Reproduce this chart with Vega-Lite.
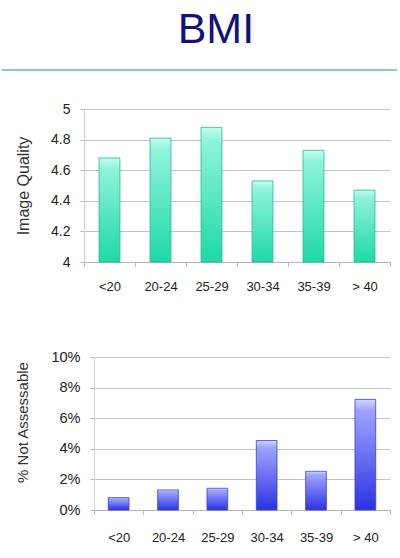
{
  "$schema": "https://vega.github.io/schema/vega-lite/v6.json",
  "padding": 0,
  "spacing": 31,
  "background": "white",
  "config": {
    "font": "Liberation Sans",
    "view": {"stroke": null},
    "axis": {
      "labelFont": "Liberation Sans",
      "titleFont": "Liberation Sans",
      "labelFontSize": 14,
      "labelColor": "#222",
      "titleFontSize": 16,
      "titleFontWeight": "normal",
      "titleColor": "#333",
      "gridColor": "#c4c4c4",
      "domainColor": "#b4b4b4",
      "tickColor": "#b4b4b4"
    }
  },
  "datasets": {
    "bmi": [
      {"bmi": "<20", "quality": 4.68, "notAssessable": 0.0081},
      {"bmi": "20-24", "quality": 4.81, "notAssessable": 0.0131},
      {"bmi": "25-29", "quality": 4.88, "notAssessable": 0.0142},
      {"bmi": "30-34", "quality": 4.53, "notAssessable": 0.0454},
      {"bmi": "35-39", "quality": 4.73, "notAssessable": 0.0253},
      {"bmi": "> 40", "quality": 4.47, "notAssessable": 0.0723}
    ],
    "header": [{"label": "BMI"}]
  },
  "vconcat": [
    {
      "width": 306,
      "height": 70,
      "data": {"name": "header"},
      "layer": [
        {
          "mark": {"type": "text", "fontSize": 43, "color": "#12127a", "baseline": "alphabetic", "align": "center"},
          "encoding": {
            "x": {"datum": 0.431, "type": "quantitative", "scale": {"domain": [0, 1]}, "axis": null},
            "y": {"datum": 0.386, "type": "quantitative", "scale": {"domain": [0, 1]}, "axis": null},
            "text": {"field": "label"}
          }
        },
        {
          "mark": {"type": "rule", "color": "#7fcfc6", "strokeWidth": 2},
          "encoding": {
            "x": {"datum": -0.268, "type": "quantitative"},
            "x2": {"datum": 1.023},
            "y": {"datum": 0, "type": "quantitative"}
          }
        }
      ]
    },
    {
      "concat": [
        {
          "width": 306,
          "height": 153,
          "data": {"name": "bmi"},
          "mark": {
            "type": "bar",
            "width": {"band": 0.41},
            "stroke": "#27b995",
            "strokeWidth": 0.8,
            "color": {
              "gradient": "linear", "x1": 0, "y1": 0, "x2": 0, "y2": 1,
              "stops": [
                {"offset": 0, "color": "#c4fcee"},
                {"offset": 0.1, "color": "#8ff3db"},
                {"offset": 1, "color": "#1ed9a6"}
              ]
            }
          },
          "encoding": {
            "x": {
              "field": "bmi", "type": "nominal", "sort": null, "title": null,
              "scale": {"paddingInner": 0, "paddingOuter": 0},
              "axis": {"labelAngle": 0, "labelPadding": 14, "labelFontSize": 13, "tickBand": "extent", "tickSize": 4, "grid": false}
            },
            "y": {
              "field": "quality", "type": "quantitative", "title": "Image Quality",
              "scale": {"domain": [4, 5], "zero": false},
              "axis": {"values": [4, 4.2, 4.4, 4.6, 4.8, 5], "format": ".1~f", "domain": true, "domainColor": "#d0d0d0", "tickSize": 4, "labelPadding": 10, "titlePadding": 19}
            },
            "y2": {"datum": 4}
          }
        },
        {
          "width": 306,
          "height": 153,
          "data": {"name": "bmi"},
          "mark": {
            "type": "bar",
            "width": {"band": 0.42},
            "stroke": "#3a40c8",
            "strokeWidth": 0.8,
            "color": {
              "gradient": "linear", "x1": 0, "y1": 0, "x2": 0, "y2": 1,
              "stops": [
                {"offset": 0, "color": "#d0d4ff"},
                {"offset": 0.1, "color": "#9ea4fb"},
                {"offset": 1, "color": "#2b32e4"}
              ]
            }
          },
          "encoding": {
            "x": {
              "field": "bmi", "type": "nominal", "sort": null, "title": null,
              "scale": {"paddingInner": 0, "paddingOuter": 0, "range": [10, 306]},
              "axis": {"labelAngle": 0, "labelPadding": 17, "labelFontSize": 13, "tickBand": "extent", "tickSize": 4, "grid": false}
            },
            "y": {
              "field": "notAssessable", "type": "quantitative", "title": "% Not Assessable",
              "scale": {"domain": [0, 0.1]},
              "axis": {"values": [0, 0.02, 0.04, 0.06, 0.08, 0.1], "format": ".0%", "offset": -10, "domain": true, "domainColor": "#d0d0d0", "tickSize": 4, "labelPadding": 10, "labelFontSize": 14.5, "titleFontSize": 15, "titlePadding": 20, "titleY": 65}
            }
          }
        }
      ],
      "columns": 1,
      "align": "none",
      "spacing": 56
    }
  ]
}
